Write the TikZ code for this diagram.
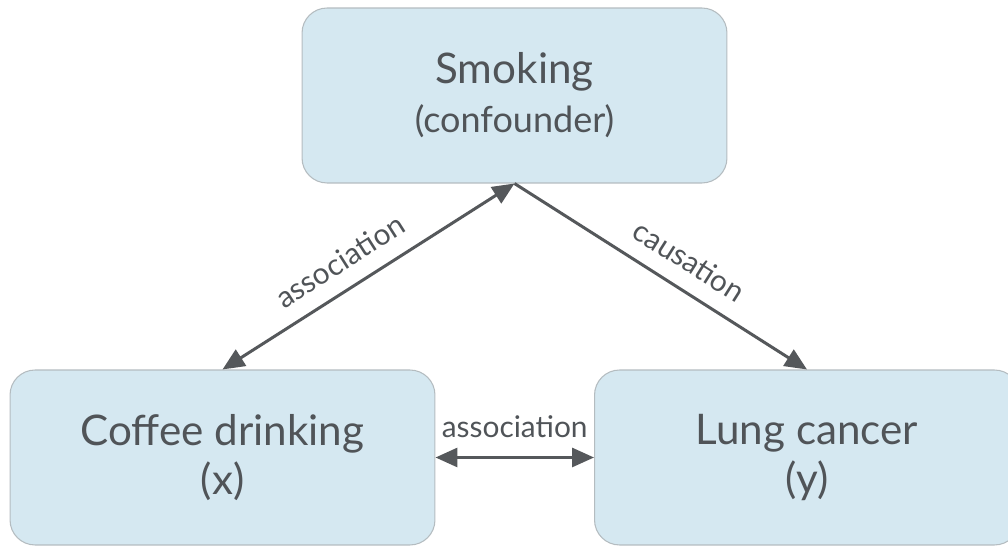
\documentclass[tikz,border=0pt]{standalone}
\usepackage{fontspec}
\setmainfont{Lato}
\usetikzlibrary{arrows.meta}
\definecolor{boxfill}{HTML}{D5E8F1}
\definecolor{boxline}{HTML}{B4BCC0}
\definecolor{inkgray}{HTML}{505458}
\definecolor{arrowgray}{HTML}{55585B}
\tikzset{
  varbox/.style={draw=boxline, line width=0.6pt, fill=boxfill, rounded corners=0.5cm,
    minimum width=8.5cm, minimum height=3.5cm, align=center, text=inkgray,
    font=\fontsize{24}{28}\selectfont},
  link/.style={draw=arrowgray, line width=0.06cm,
    {Triangle[length=0.44cm,width=0.38cm]}-{Triangle[length=0.44cm,width=0.38cm]}},
  linklabel/.style={text=inkgray, font=\fontsize{17}{20}\selectfont}
}
\begin{document}
\begin{tikzpicture}[x=0.02cm, y=-0.02cm]
\useasboundingbox (0,0) rectangle (1008,546);
\node[varbox] (smoking) at (514.5,95.5) {Smoking\\{\fontsize{20.5}{24}\selectfont(confounder)}};
\node[varbox] (coffee) at (222.5,457.5) {Coffee drinking\\(x)};
\node[varbox] (lung) at (807,457.5) {Lung cancer\\(y)};
\draw[link] (smoking.south) -- (coffee.north) node[linklabel, pos=0.545, sloped, above=0.2cm] {association};
\draw[link, {-Triangle[length=0.44cm,width=0.38cm]}] (smoking.south) -- (lung.north) node[linklabel, pos=0.545, sloped, above=0.2cm] {causation};
\draw[link] (coffee.east) -- (lung.west) node[linklabel, midway, above=0.25cm] {association};
\end{tikzpicture}
\end{document}
